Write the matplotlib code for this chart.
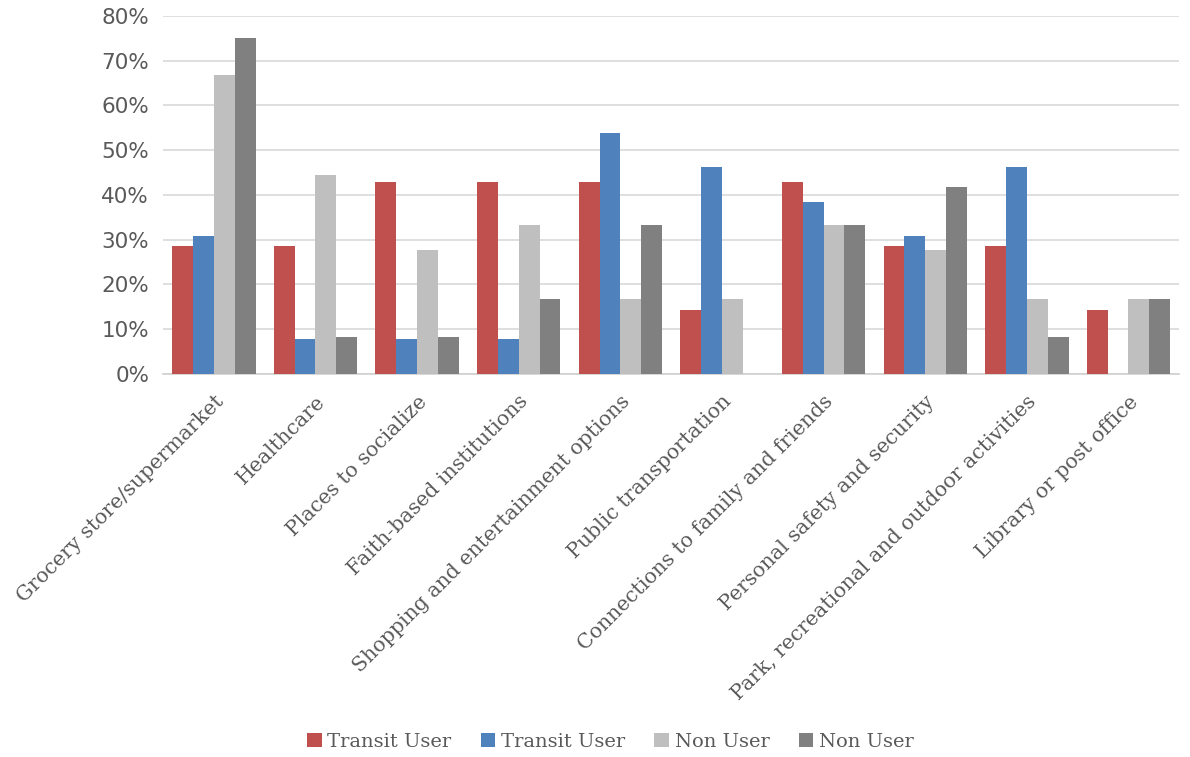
import numpy as np
import matplotlib
matplotlib.use('Agg')
import matplotlib.pyplot as plt
from matplotlib.ticker import PercentFormatter

categories = ['Grocery store/supermarket', 'Healthcare', 'Places to socialize',
              'Faith-based institutions', 'Shopping and entertainment options',
              'Public transportation', 'Connections to family and friends',
              'Personal safety and security',
              'Park, recreational and outdoor activities', 'Library or post office']

series_labels = ['Transit User', 'Transit User', 'Non User', 'Non User']
transit_a = [28.6, 28.6, 42.9, 42.9, 42.9, 14.3, 42.9, 28.6, 28.6, 14.3]
transit_b = [30.8, 7.7, 7.7, 7.7, 53.8, 46.2, 38.5, 30.8, 46.2, 0.0]
non_a = [66.7, 44.4, 27.8, 33.3, 16.7, 16.7, 33.3, 27.8, 16.7, 16.7]
non_b = [75.0, 8.3, 8.3, 16.7, 33.3, 0.0, 33.3, 41.7, 8.3, 16.7]
colors = ['#c0504d', '#4f81bd', '#bfbfbf', '#808080']

fig = plt.figure(figsize=(11.9, 7.57), dpi=100, facecolor='white')
ax = fig.add_axes([0.137, 0.506, 0.854, 0.473])

x = np.arange(len(categories))
w = 0.205
for i, vals in enumerate([transit_a, transit_b, non_a, non_b]):
    ax.bar(x + (i - 1.5) * w, vals, width=w, color=colors[i],
           label=series_labels[i], zorder=3)

ax.set_xlim(-0.5, len(categories) - 0.5)
ax.set_ylim(0, 80)
ax.set_yticks(np.arange(0, 81, 10))
ax.yaxis.set_major_formatter(PercentFormatter(decimals=0))
ax.grid(axis='y', color='#d9d9d9', linewidth=1.2, zorder=0)
for s in ['top', 'right', 'left']:
    ax.spines[s].set_visible(False)
ax.spines['bottom'].set_color('#d0d0d0')
ax.spines['bottom'].set_linewidth(1.2)
ax.tick_params(length=0)
ax.tick_params(axis='y', labelsize=15.5, labelcolor='#595959', pad=10)

ax.set_xticks(x)
ax.set_xticklabels(categories, rotation=45, ha='right', rotation_mode='anchor',
                   fontsize=14.8, family='DejaVu Serif', color='#595959')
ax.tick_params(axis='x', pad=13)

fig.legend(loc='center', bbox_to_anchor=(0.513, 15 / 757), ncol=4, frameon=False,
           prop={'family': 'DejaVu Serif', 'size': 14}, labelcolor='#595959',
           handlelength=0.75, handleheight=0.75, handletextpad=0.3, columnspacing=1.5)

fig.savefig('out.png', dpi=100, facecolor='white')
